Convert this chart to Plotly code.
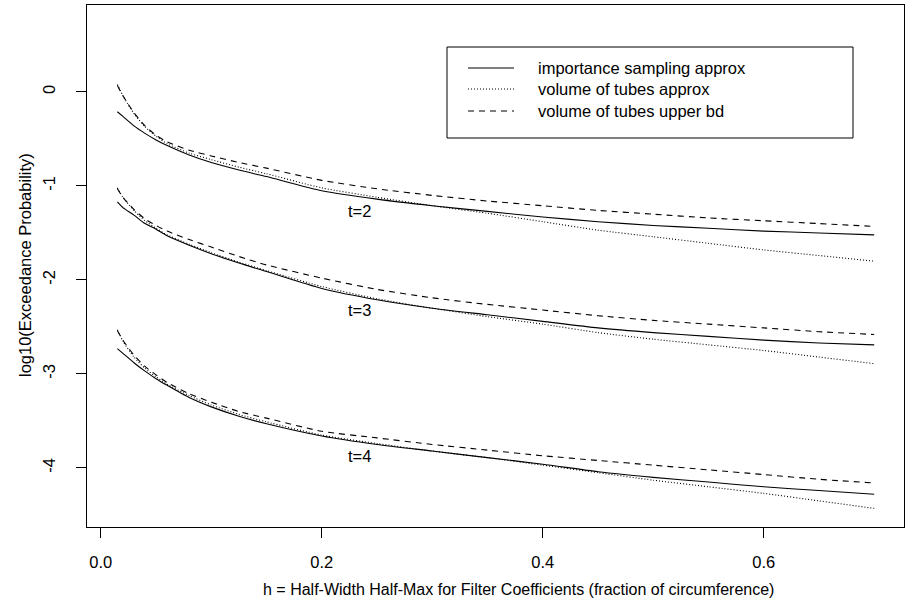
import plotly.graph_objects as go

# ---------------- data ----------------
h = [0.015, 0.02, 0.03, 0.04, 0.05, 0.06, 0.08, 0.10, 0.125, 0.15, 0.20,
     0.25, 0.30, 0.35, 0.40, 0.45, 0.50, 0.55, 0.60, 0.65, 0.70]

t2_is = [-0.21, -0.26, -0.36, -0.44, -0.51, -0.57, -0.67, -0.75, -0.83, -0.90, -1.05,
         -1.14, -1.21, -1.27, -1.33, -1.38, -1.42, -1.45, -1.48, -1.50, -1.52]
t2_vt = [0.08, -0.04, -0.23, -0.37, -0.47, -0.55, -0.65, -0.72, -0.80, -0.87, -1.02,
         -1.12, -1.21, -1.29, -1.38, -1.47, -1.54, -1.61, -1.68, -1.74, -1.80]
t2_ub = [0.07, -0.04, -0.22, -0.36, -0.46, -0.53, -0.62, -0.68, -0.75, -0.81, -0.94,
         -1.03, -1.10, -1.16, -1.21, -1.26, -1.30, -1.34, -1.37, -1.40, -1.43]

t3_is = [-1.17, -1.23, -1.31, -1.40, -1.46, -1.53, -1.63, -1.72, -1.82, -1.91, -2.09,
         -2.21, -2.30, -2.37, -2.44, -2.51, -2.56, -2.60, -2.64, -2.67, -2.69]
t3_vt = [-1.02, -1.12, -1.26, -1.37, -1.45, -1.52, -1.62, -1.71, -1.81, -1.90, -2.07,
         -2.20, -2.30, -2.39, -2.47, -2.56, -2.63, -2.69, -2.75, -2.82, -2.89]
t3_ub = [-1.03, -1.12, -1.25, -1.35, -1.42, -1.48, -1.57, -1.65, -1.75, -1.84, -1.98,
         -2.10, -2.19, -2.26, -2.32, -2.38, -2.43, -2.47, -2.51, -2.55, -2.58]

t4_is = [-2.73, -2.78, -2.88, -2.97, -3.05, -3.12, -3.25, -3.35, -3.45, -3.53, -3.66,
         -3.75, -3.82, -3.89, -3.96, -4.04, -4.10, -4.15, -4.20, -4.24, -4.28]
t4_vt = [-2.53, -2.65, -2.82, -2.94, -3.03, -3.11, -3.23, -3.33, -3.43, -3.51, -3.65,
         -3.74, -3.82, -3.89, -3.97, -4.05, -4.13, -4.20, -4.27, -4.35, -4.43]
t4_ub = [-2.54, -2.64, -2.80, -2.92, -3.01, -3.09, -3.21, -3.30, -3.40, -3.47, -3.61,
         -3.68, -3.75, -3.81, -3.87, -3.92, -3.97, -4.02, -4.07, -4.12, -4.16]

curve_labels = ["t=2", "t=3", "t=4"]
label_x = [0.234, 0.234, 0.234]
label_y = [-1.27, -2.32, -3.87]

x_ticks = [0.0, 0.2, 0.4, 0.6]
x_ticktext = ["0.0", "0.2", "0.4", "0.6"]
y_ticks = [0, -1, -2, -3, -4]
y_ticktext = ["0", "-1", "-2", "-3", "-4"]

legend_names = ["importance sampling approx", "volume of tubes approx", "volume of tubes upper bd"]

# ---------------- styling ----------------
W, H = 907, 613
ML, MR, MT, MB = 87, 3, 5, 86
FONT = "Liberation Sans, Arial, Helvetica, sans-serif"
DASHES = ["solid", "1px,2px", "6px,5px"]
LW = 1.1

fig = go.Figure()
groups = [(t2_is, t2_vt, t2_ub), (t3_is, t3_vt, t3_ub), (t4_is, t4_vt, t4_ub)]
for g in groups:
    for ys, dash in zip(g, DASHES):
        fig.add_trace(go.Scatter(x=h, y=ys, mode="lines", line_shape="spline",
                                 line=dict(color="black", width=LW, dash=dash, smoothing=0.6),
                                 showlegend=False, hoverinfo="skip"))

for txt, lx, ly in zip(curve_labels, label_x, label_y):
    fig.add_annotation(x=lx, y=ly, xref="x", yref="y", text=txt, showarrow=False,
                       font=dict(family=FONT, size=16.5, color="black"))

pw = W - ML - MR
ph = H - MT - MB


def px2paper_x(px):
    return (px - ML) / pw


def px2paper_y(py):
    return (H - MB - py) / ph


# manual legend (R-style)
fig.add_shape(type="rect", xref="paper", yref="paper",
              x0=px2paper_x(447), x1=px2paper_x(853), y0=px2paper_y(138), y1=px2paper_y(47),
              line=dict(color="black", width=1), fillcolor="white", layer="above")
row_y = [68, 89, 111]
for name, dash, ry in zip(legend_names, DASHES, row_y):
    fig.add_shape(type="line", xref="paper", yref="paper",
                  x0=px2paper_x(468), x1=px2paper_x(514), y0=px2paper_y(ry), y1=px2paper_y(ry),
                  line=dict(color="black", width=LW, dash=dash))
    fig.add_annotation(x=px2paper_x(536), y=px2paper_y(ry), xref="paper", yref="paper",
                       text=name, showarrow=False, xanchor="left", yanchor="middle",
                       font=dict(family=FONT, size=16.5, color="black"))

# axis titles
fig.add_annotation(x=px2paper_x(518), y=px2paper_y(600), xref="paper", yref="paper",
                   text="h = Half-Width Half-Max for Filter Coefficients (fraction of circumference)",
                   showarrow=False, font=dict(family=FONT, size=16, color="black"))
fig.add_annotation(x=px2paper_x(14), y=px2paper_y(265), xref="paper", yref="paper",
                   text="log10(Exceedance Probability)", textangle=-90,
                   showarrow=False, font=dict(family=FONT, size=16.5, color="black"))

fig.update_layout(
    width=W, height=H, margin=dict(l=ML, r=MR, t=MT, b=MB),
    paper_bgcolor="white", plot_bgcolor="white",
    font=dict(family=FONT, size=16, color="black"),
    showlegend=False,
)
fig.update_xaxes(range=[-0.0125, 0.727], tickvals=x_ticks, ticktext=x_ticktext,
                 showgrid=False, zeroline=False, showline=True, mirror=True,
                 linecolor="black", linewidth=1, ticks="outside", ticklen=10,
                 tickcolor="black", tickfont=dict(family=FONT, size=16.5), ticklabelstandoff=10)
fig.update_yaxes(range=[-4.628, 0.9255], tickvals=y_ticks, ticktext=y_ticktext,
                 showgrid=False, zeroline=False, showline=True, mirror=True,
                 linecolor="black", linewidth=1, ticks="outside", ticklen=10,
                 tickcolor="black", tickangle=-90, tickfont=dict(family=FONT, size=16.5),
                 ticklabelstandoff=14)

fig.write_html("out.html")
